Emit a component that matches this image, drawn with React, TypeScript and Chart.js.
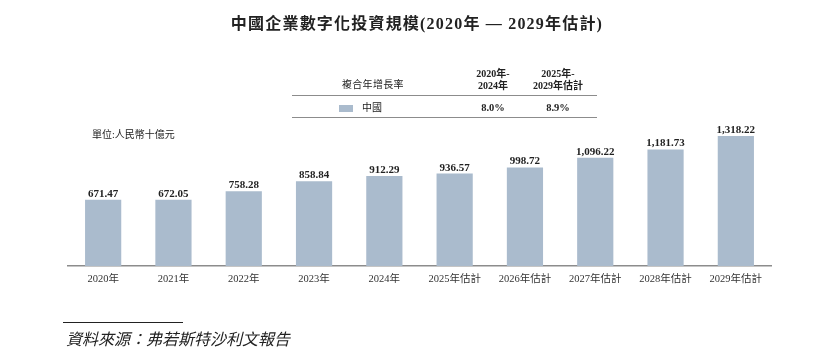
import React, { useEffect, useRef } from "react";
import { Chart, registerables } from "chart.js";

Chart.register(...registerables);

const categories = ["2020年", "2021年", "2022年", "2023年", "2024年", "2025年估計", "2026年估計", "2027年估計", "2028年估計", "2029年估計"];
const values = [671.47, 672.05, 758.28, 858.84, 912.29, 936.57, 998.72, 1096.22, 1181.73, 1318.22];
const cagrHeaders = ["2020年-\n2024年", "2025年-\n2029年估計"];
const cagrChina = ["8.0%", "8.9%"];

const SERIF = '"Liberation Serif", "Noto Sans CJK TC", serif';
const BAR = "#aabbcd";
const TEXT = "#222";

const labelPlugin = {
  id: "valueLabels",
  afterDatasetsDraw(chart: any) {
    const ctx = chart.ctx;
    const meta = chart.getDatasetMeta(0);
    ctx.save();
    ctx.font = `bold 11px ${SERIF}`;
    ctx.fillStyle = TEXT;
    ctx.textAlign = "center";
    ctx.textBaseline = "alphabetic";
    meta.data.forEach((el: any, i: number) => {
      const v = values[i];
      const s = v.toLocaleString("en-US", { minimumFractionDigits: 2, maximumFractionDigits: 2 });
      ctx.fillText(s, el.x, el.y - 3);
    });
    ctx.restore();
  },
};

export default function App() {
  const ref = useRef<HTMLCanvasElement>(null);
  useEffect(() => {
    if (!ref.current) return;
    const chart = new Chart(ref.current, {
      type: "bar",
      data: {
        labels: categories,
        datasets: [{ data: values, backgroundColor: BAR, categoryPercentage: 1, barPercentage: 0.515 }],
      },
      options: {
        animation: false,
        responsive: false,
        layout: { padding: { left: 68, right: 63, top: 118, bottom: 70 } },
        plugins: { legend: { display: false }, tooltip: { enabled: false }, title: { display: false } },
        scales: {
          y: { display: false, min: 0, max: 1500 },
          x: {
            grid: { display: false, drawTicks: false },
            border: { color: "#8c8c8c", width: 1.5 },
            ticks: { color: "#333", font: { family: SERIF, size: 10.5 }, padding: 7 },
            afterFit: (s: any) => {
              s.height = 20;
            },
          },
        },
      },
      plugins: [labelPlugin],
    });
    return () => chart.destroy();
  }, []);

  const abs = (o: React.CSSProperties): React.CSSProperties => ({ position: "absolute", ...o });

  return (
    <div style={{ position: "fixed", left: 0, top: 0, width: 834, height: 356, background: "#fff", fontFamily: SERIF, color: TEXT }}>
      <canvas ref={ref} width={834} height={356} style={abs({ left: 0, top: 0, width: 834, height: 356 })} />
      <div style={abs({ left: 0, width: 834, top: 14, textAlign: "center", fontWeight: "bold", fontSize: 16, lineHeight: "20px", letterSpacing: 1.2 })}>
        中國企業數字化投資規模(2020年 — 2029年估計)
      </div>
      {/* CAGR table */}
      <div style={abs({ left: 342, top: 79, fontSize: 10, lineHeight: "12px", letterSpacing: 0.3 })}>複合年增長率</div>
      {cagrHeaders.map((h, i) => (
        <div key={i} style={abs({ left: [458, 523][i], width: 70, top: 68, textAlign: "center", fontSize: 10, fontWeight: "bold", lineHeight: "12px", whiteSpace: "pre" })}>
          {h}
        </div>
      ))}
      <div style={abs({ left: 292, top: 95, width: 305, height: 0, borderTop: "1.5px solid #8c8c8c" })} />
      <div style={abs({ left: 339, top: 105, width: 14, height: 7, background: BAR })} />
      <div style={abs({ left: 362, top: 102, fontSize: 10, lineHeight: "12px" })}>中國</div>
      {cagrChina.map((v, i) => (
        <div key={i} style={abs({ left: [458, 523][i], width: 70, top: 102, textAlign: "center", fontSize: 10.5, fontWeight: "bold", lineHeight: "12px" })}>
          {v}
        </div>
      ))}
      <div style={abs({ left: 292, top: 117, width: 305, height: 0, borderTop: "1px solid #8c8c8c" })} />
      <div style={abs({ left: 92, top: 129, fontSize: 10, lineHeight: "12px" })}>單位:人民幣十億元</div>
      {/* source */}
      <div style={abs({ left: 63, top: 322, width: 120, height: 0, borderTop: "1px solid #222" })} />
      <div style={abs({ left: 66, top: 330, fontSize: 16, lineHeight: "20px", fontStyle: "italic" })}>資料來源：弗若斯特沙利文報告</div>
    </div>
  );
}
